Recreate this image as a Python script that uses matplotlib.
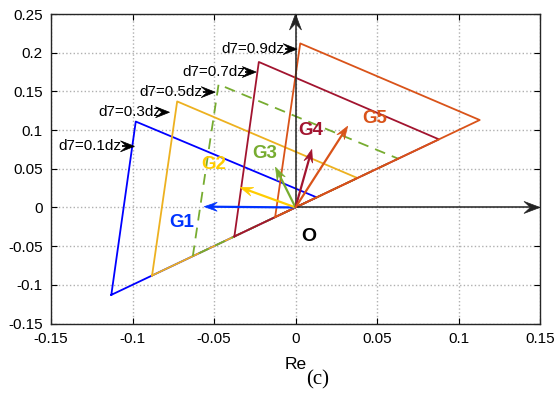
import numpy as np
import matplotlib.pyplot as plt
from matplotlib.patches import Polygon

plt.rcParams['font.family'] = ['Liberation Sans', 'DejaVu Sans']

# triangle vertices for each d7 setting (bottom and right corners sit on y = x)
d7_labels = ['d7=0.1dz', 'd7=0.3dz', 'd7=0.5dz', 'd7=0.7dz', 'd7=0.9dz']
tri_bottom = [-0.113, -0.088, -0.063, -0.0375, -0.0125]
tri_top_x = [-0.098, -0.0726, -0.0472, -0.0225, 0.0029]
tri_top_y = [0.111, 0.137, 0.159, 0.188, 0.212]
tri_right = [0.013, 0.038, 0.063, 0.088, 0.113]
tri_colors = ['#0000FF', '#EDB120', '#77AC30', '#A2142F', '#D95319']
tri_styles = ['-', '-', (0, (6, 4)), '-', '-']

# where each d7 label arrow points, and where its text ends
d7_tip_x = [-0.0988, -0.0773, -0.0493, -0.0241, 0.001]
d7_tip_y = [0.079, 0.123, 0.149, 0.175, 0.2046]
d7_text_x = [-0.107, -0.0822, -0.0571, -0.031, -0.0067]

# phasors G1..G5
g_names = ['G1', 'G2', 'G3', 'G4', 'G5']
g_x = [-0.056, -0.034, -0.0123, 0.010, 0.032]
g_y = [0.001, 0.026, 0.052, 0.075, 0.105]
g_colors = ['#0033FF', '#FFCC00', '#77AC30', '#A2142F', '#D95319']
g_label_x = [-0.07, -0.05, -0.0186, 0.0096, 0.0485]
g_label_y = [-0.02, 0.056, 0.070, 0.100, 0.1146]

xticks = [-0.15, -0.1, -0.05, 0, 0.05, 0.1, 0.15]
xtick_labels = ['-0.15', '-0.1', '-0.05', '0', '0.05', '0.1', '0.15']
yticks = [-0.15, -0.1, -0.05, 0, 0.05, 0.1, 0.15, 0.2, 0.25]
ytick_labels = ['-0.15', '-0.1', '-0.05', '0', '0.05', '0.1', '0.15', '0.2', '0.25']


def notched_arrow(ax, x0, y0, x1, y1, color, lw, head_len, head_w, notch=0.6, z=5):
    # shaft plus a filled head with a notched back, sized in pixels
    to_px = ax.transData
    to_data = ax.transData.inverted()
    p0 = to_px.transform((x0, y0))
    p1 = to_px.transform((x1, y1))
    u = (p1 - p0) / np.hypot(*(p1 - p0))
    n = np.array([-u[1], u[0]])
    back = p1 - notch * head_len * u
    head = [p1, p1 - head_len * u + head_w / 2 * n, back,
            p1 - head_len * u - head_w / 2 * n]
    head = to_data.transform(np.array(head))
    bd = to_data.transform(back)
    ax.plot([x0, bd[0]], [y0, bd[1]], color=color, lw=lw, zorder=z,
            solid_capstyle='butt', clip_on=False)
    ax.add_patch(Polygon(head, closed=True, facecolor=color, edgecolor=color,
                         lw=0.5, zorder=z, clip_on=False))


fig = plt.figure(figsize=(5.6, 3.99), dpi=100)
ax = fig.add_axes([51 / 560, 1 - 323.5 / 399, 489 / 560, 309.5 / 399])
ax.set_xlim(-0.15, 0.15)
ax.set_ylim(-0.15, 0.25)

for i in range(5):
    xs = [tri_bottom[i], tri_top_x[i], tri_right[i], tri_bottom[i]]
    ys = [tri_bottom[i], tri_top_y[i], tri_right[i], tri_bottom[i]]
    ax.plot(xs, ys, color=tri_colors[i], lw=1.3, linestyle=tri_styles[i], zorder=3)

# coordinate axes through the origin
notched_arrow(ax, 0, 0, 0.15, 0, '#222222', 1.1, 16, 12, z=4)
notched_arrow(ax, 0, 0, 0, 0.25, '#222222', 1.1, 16, 12, z=4)

for i in range(5):
    notched_arrow(ax, 0, 0, g_x[i], g_y[i], g_colors[i], 1.6, 13, 9)
    ax.text(g_label_x[i], g_label_y[i], g_names[i], color=g_colors[i],
            fontsize=13.5, fontweight='bold', ha='center', va='center', zorder=6)

ax.text(0.008, -0.0375, 'O', fontsize=14, fontweight='bold', ha='center', va='center')

for i in range(5):
    ax.text(d7_text_x[i], d7_tip_y[i], d7_labels[i], ha='right', va='center',
            fontsize=11, zorder=6)
    notched_arrow(ax, d7_text_x[i] + 0.0003, d7_tip_y[i], d7_tip_x[i], d7_tip_y[i],
                  'k', 1.3, 14, 11, notch=0.55, z=6)

ax.set_xticks(xticks)
ax.set_xticklabels(xtick_labels)
ax.set_yticks(yticks)
ax.set_yticklabels(ytick_labels)
ax.tick_params(direction='in', top=True, right=True, length=4, labelsize=11, pad=6)
ax.grid(True, linestyle=':', color='#b0b0b0', lw=1.0)
for s in ax.spines.values():
    s.set_linewidth(1.0)
    s.set_color('#262626')
ax.set_xlabel('Re', fontsize=12.5, labelpad=8)

fig.text(318 / 560, 1 - 380 / 399, '(c)', fontsize=15, family='Liberation Serif',
         ha='center', va='center')

fig.savefig('out.png', dpi=100)
